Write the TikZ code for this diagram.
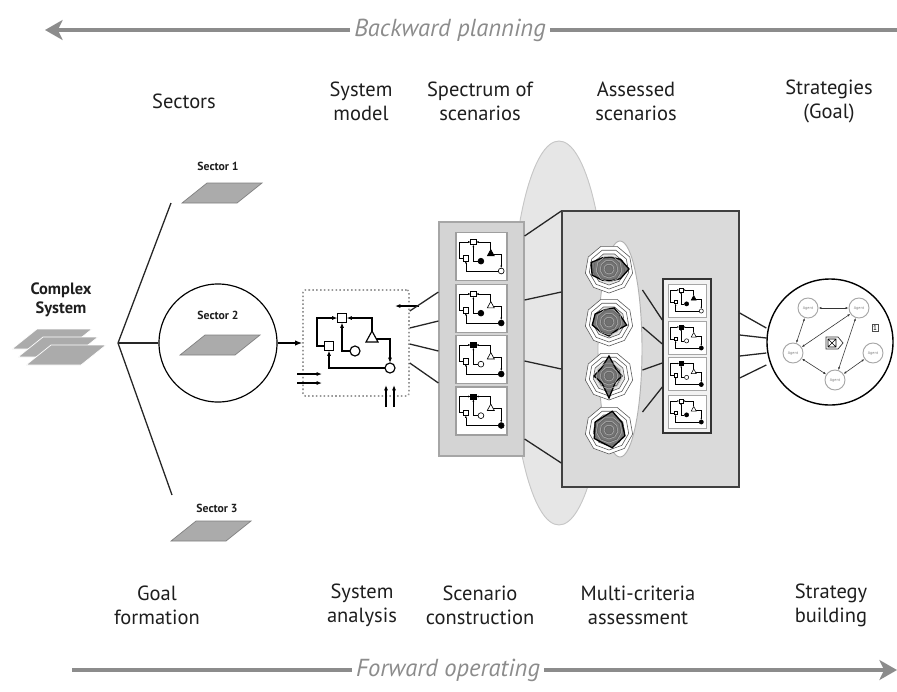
\documentclass[tikz,border=0pt]{standalone}
\usepackage{fontspec}
\setmainfont{PT Sans}
\usetikzlibrary{arrows.meta,shapes.geometric}

\definecolor{arrowgray}{HTML}{8C8C8C}
\definecolor{sheetgray}{HTML}{ABABAB}
\definecolor{panelgray}{HTML}{D4D4D4}
\definecolor{ovalgray}{HTML}{E6E6E6}
\definecolor{textdark}{HTML}{1E1E1E}

\tikzset{
  tiplen/.store in=\tiplen, tiplen=4pt,
  marr/.style={-{Latex[length=\tiplen]}},
  head/.style={font=\fontsize{17.5}{20.5}\selectfont,align=center,text=textdark},
  seclabel/.style={font=\bfseries\fontsize{10}{12}\selectfont,text=textdark},
  bigarrow/.style={draw=arrowgray,line width=4.2pt,-{Stealth[length=15pt,width=17pt,inset=4pt]}},
  bigtext/.style={font=\itshape\fontsize{21}{24}\selectfont,text=arrowgray},
  fanline/.style={line width=1.1pt,draw=black!85},
  scenframe/.style={draw=gray!75,fill=white,line width=1.2pt,minimum width=1.53cm,minimum height=1.44cm},
  smallframe/.style={draw=gray!70,fill=white,line width=.8pt,minimum width=1.14cm,minimum height=.99cm},
  agent/.style={circle,draw=gray!70,fill=white,line width=.8pt,minimum size=.6cm,inner sep=0,
    font=\fontsize{3.5}{4}\selectfont,text=gray},
  agentlink/.style={line width=.5pt,draw=black!80,{Latex[length=2.5pt]}-{Latex[length=2.5pt]}},
  % flat sheet (sector)
  pics/sheet/.style={code={
    \filldraw[fill=sheetgray,draw=#1,line width=.6pt] (-40,10) -- (-15,-10) -- (40,-10) -- (15,10) -- cycle;
  }},
  % little system model, fills: top square, triangle, mid circle, bottom circle
  pics/model/.style n args={4}{code={
    \draw[marr] (-31.5,3) -- (-39,3) -- (-39,-25) -- (-18.5,-25);
    \draw[marr] (-6,8) -- (-14,8) -- (-14,-20.5);
    \draw[marr] (16,-12) -- (16,-25) -- (-9.5,-25);
    \draw[marr] (20,-4) -- (34,-4) -- (34,20);
    \draw[marr] (29,25) -- (-27,25) -- (-27,7.5);
    \filldraw[fill=#1] (-18.5,-29.5) rectangle (-9.5,-20.5);
    \filldraw[fill=white] (-31.5,-1.5) rectangle (-22.5,7.5);
    \filldraw[fill=#2] (16,-12) -- (22,-1) -- (10,-1) -- cycle;
    \filldraw[fill=#3] (-1,8) circle (5);
    \filldraw[fill=#4] (34,25) circle (5);
  }},
  % radar chart, #1 = data polygon
  pics/radar/.style={code={
    \foreach \r/\c in {24/white,20/white,16/gray!20,12/gray!35,8/gray!50,4/gray!65}
      \filldraw[fill=\c,draw=black!65,line width=.5pt]
        (90:\r) \foreach \a in {1,...,8}{ -- ({90+\a*40}:\r)} -- cycle;
    \filldraw[fill=black!60,fill opacity=.85,draw=black,line width=1.1pt] #1 -- cycle;
    \foreach \r in {13,9,5}
      \draw[gray!60,line width=.4pt]
        (90:\r) \foreach \a in {1,...,8}{ -- ({90+\a*40}:\r)} -- cycle;
  }}
}

\begin{document}
\begin{tikzpicture}[x=0.03cm,y=-0.03cm]
  \useasboundingbox (0,0) rectangle (897,691);

  % planning arrows
  \node[bigtext] (back) at (450,30) {Backward planning};
  \coordinate (backtip) at (45,30);
  \coordinate (backend) at (897,30);
  \draw[bigarrow] (back.west) -- (backtip);
  \draw[bigarrow,-] (back.east) -- (backend);

  \node[bigtext] (fwd) at (448,670) {Forward operating};
  \coordinate (fwdstart) at (72,670);
  \coordinate (fwdtip) at (897,670);
  \draw[bigarrow,-] (fwdstart) -- (fwd.west);
  \draw[bigarrow] (fwd.east) -- (fwdtip);

  % headers
  \node[head] (hsec) at (184,101) {Sectors};
  \node[head] (hmod) at (361,101) {System\\model};
  \node[head] (hspec) at (480,101) {Spectrum of\\scenarios};
  \node[head] (hass) at (636,101) {Assessed\\scenarios};
  \node[head] (hstrat) at (829,101) {Strategies\\(Goal)};

  \node[head] (fgoal) at (157,605) {Goal\\formation};
  \node[head] (fsys) at (362,605) {System\\analysis};
  \node[head] (fscen) at (480,605) {Scenario\\construction};
  \node[head] (fmulti) at (638,605) {Multi-criteria\\assessment};
  \node[head] (fbuild) at (831,605) {Strategy\\building};

  % complex system
  \node[font=\bfseries\fontsize{14}{16}\selectfont,align=center,text=textdark] (complex) at (61,300) {Complex\\System};
  \pic at (52,339) {sheet=white};
  \pic at (58,347) {sheet=white};
  \pic at (66,355) {sheet=white};

  % sectors
  \coordinate (fork) at (118,343);
  \coordinate (up) at (171,203);
  \coordinate (down) at (172,495);
  \node[circle,draw,line width=1pt,minimum size=3.54cm,inner sep=0] (sec2) at (218,343) {};
  \draw[fanline] (up) -- (fork) -- (down);
  \draw[fanline] (fork) -- (sec2);

  \node[seclabel] (lsec1) at (218,166) {Sector 1};
  \pic at (222,193) {sheet=gray};
  \node[seclabel] (lsec2) at (218,315) {Sector 2};
  \pic at (220,345) {sheet=gray};
  \node[seclabel] (lsec3) at (217,508) {Sector 3};
  \pic at (211,531) {sheet=gray};

  % big oval behind the scenarios
  \node[ellipse,fill=ovalgray,draw=gray!45,line width=.8pt,inner sep=0,
    minimum width=2.88cm,minimum height=11.52cm] (bigoval) at (559,333) {};

  % system model
  \node[draw=gray!80,dotted,line width=1.3pt,rounded corners=2pt,
    minimum width=3.18cm,minimum height=3.18cm] (sysbox) at (356,343) {};
  \draw[line width=1pt,-{Latex[length=6pt]}] (sec2) -- (sysbox);
  \pic[line width=1pt,tiplen=4.5pt] at (sysbox.center) {model={white}{white}{white}{white}};
  \draw[line width=1pt,-{Latex[length=4.5pt]}] ([shift={(-59,31)}]sysbox.center) -- ++(25,0);
  \draw[line width=1pt,-{Latex[length=4.5pt]}] ([shift={(-59,40)}]sysbox.center) -- ++(25,0);
  \draw[line width=1pt,-{Latex[length=4.5pt]}] ([shift={(30,64)}]sysbox.center) -- ++(0,-22);
  \draw[line width=1pt,-{Latex[length=4.5pt]}] ([shift={(38,64)}]sysbox.center) -- ++(0,-22);
  \draw[line width=1pt,-{Latex[length=4.5pt]}] ([shift={(63,-37)}]sysbox.center) -- ++(-24,0);

  % spectrum of scenarios
  \node[draw=gray!70,fill=panelgray,line width=1pt,minimum width=2.55cm,minimum height=7.02cm] (scen) at (481.5,339) {};
  \foreach \y/\a/\b/\c/\d [count=\i] in {256.5/white/black/black/white,308.5/white/white/black/black,
      359.5/black/white/white/black,411/black/white/white/black}{
    \node[scenframe] (scen\i) at (481.5,\y) {};
    \pic[scale=.58,line width=.55pt,tiplen=2.2pt] at (scen\i) {model={\a}{\b}{\c}{\d}};
  }
  \foreach \a/\b in {311/292,328/321,344/351,363/383}
    \draw[fanline] (sysbox.east |- 0,\a) -- (scen.west |- 0,\b);

  % assessed scenarios
  \node[draw=black!75,fill=panelgray!85,line width=1.2pt,minimum width=5.31cm,minimum height=8.28cm] (asse) at (650.5,349) {};
  \foreach \a/\b in {236/211,300/292,361/369,439/463}
    \draw[fanline] (scen.east |- 0,\a) -- (asse.west |- 0,\b);
  \node[ellipse,fill=white,draw=gray!60,line width=.8pt,inner sep=0,
    minimum width=1.32cm,minimum height=6.48cm] (assoval) at (620,349) {};
  \pic at (609,269) {radar={(0:20) -- (40:15) -- (80:12) -- (120:13) -- (160:18) -- (200:19) -- (240:13) -- (280:12) -- (320:15)}};
  \pic at (609,322) {radar={(10:18) -- (50:11) -- (90:14) -- (130:13) -- (170:17) -- (210:16) -- (250:13) -- (290:15) -- (330:13)}};
  \pic at (609,376) {radar={(0:13) -- (45:9) -- (90:22) -- (135:10) -- (180:15) -- (225:11) -- (270:20) -- (315:10)}};
  \pic at (609,430) {radar={(20:17) -- (80:18) -- (150:17) -- (210:16) -- (280:19) -- (330:15)}};

  \node[draw=black!80,fill=gray!10,line width=1.2pt,minimum width=1.44cm,minimum height=4.62cm] (small) at (687,356) {};
  \foreach \a/\b in {290/320,327/344,370/363,412/387}
    \draw[fanline] (assoval.east |- 0,\a) -- (small.west |- 0,\b);
  \foreach \y/\a/\b/\c/\d [count=\i] in {300.5/white/black/black/white,337.5/black/white/white/black,
      374/black/white/white/black,411.5/white/white/black/black}{
    \node[smallframe] (small\i) at (687,\y) {};
    \pic[scale=.42,line width=.45pt,tiplen=1.7pt] at (small\i) {model={\a}{\b}{\c}{\d}};
  }

  % strategies
  \node[circle,draw,line width=1.2pt,fill=white,minimum size=3.78cm,inner sep=0] (strat) at (830,342) {};
  \foreach \a/\b in {313/328,335/338,356/353,378/365}
    \draw[fanline] (asse.east |- 0,\a) -- (strat.west |- 0,\b);
  \node[agent] (ag1) at (808,308) {Agent};
  \node[agent] (ag2) at (859,308) {Agent};
  \node[agent] (ag3) at (793,353) {Agent};
  \node[agent] (ag4) at (873,353) {Agent};
  \node[agent] (ag5) at (835,380) {Agent};
  \draw[agentlink] (ag1) -- (ag2);
  \draw[agentlink] (ag1) -- (ag3);
  \draw[agentlink] (ag3) -- (ag2);
  \draw[agentlink] (ag2) -- (ag5);
  \draw[agentlink] (ag3) -- (ag5);
  \draw[agentlink] (ag4) -- (ag5);
  \filldraw[fill=white,draw=black!80,line width=.6pt] (826,337) -- (838,337) -- (843,343) -- (838,349) -- (826,349) -- cycle;
  \draw[line width=.5pt] (828,339) rectangle (836,347) (828,339) -- (836,347) (828,347) -- (836,339);
  \node[draw=black!70,line width=.5pt,inner sep=1pt,font=\fontsize{6}{7}\selectfont] (one) at (875,328) {1};
\end{tikzpicture}
\end{document}
